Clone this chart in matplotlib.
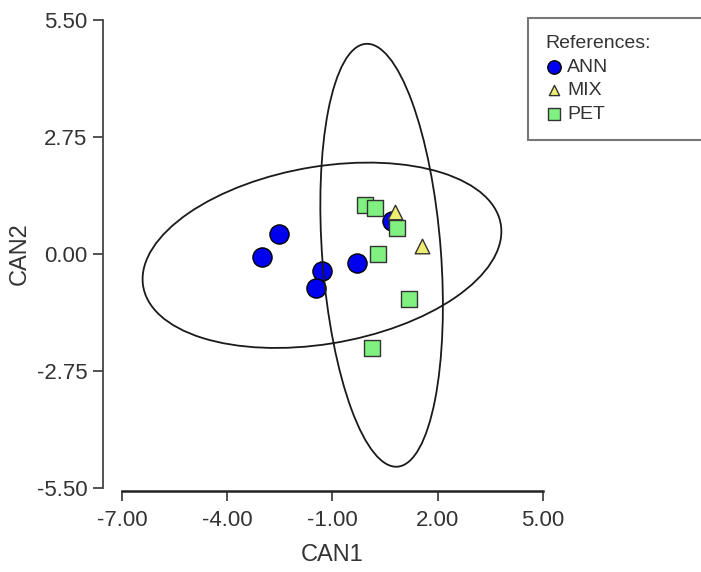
import numpy as np
import matplotlib.pyplot as plt
from matplotlib.patches import Ellipse

plt.rcParams['font.family'] = ['Liberation Sans', 'DejaVu Sans']

# -----Canonical scores-----
ann_x = [-3.02, -2.52, -1.30, -1.46, -0.30, 0.69]
ann_y = [-0.08, 0.46, -0.41, -0.80, -0.22, 0.78]
mix_x = [0.77, 1.55]
mix_y = [0.98, 0.18]
pet_x = [-0.06, 0.22, 0.84, 0.29, 1.17, 0.14]
pet_y = [1.16, 1.08, 0.61, -0.01, -1.06, -2.22]

# -----Confidence ellipses (centre, full width/height, angle in degrees)-----
ell_cx = [-1.30, 0.40]
ell_cy = [-0.03, -0.03]
ell_w = [10.3, 3.38]
ell_h = [4.18, 9.98]
ell_angle = [7.5, 5.4]

x_ticks = [-7.0, -4.0, -1.0, 2.0, 5.0]
y_ticks = [-5.5, -2.75, 0.0, 2.75, 5.5]

fig = plt.figure(figsize=(7.01, 5.72), dpi=100)
ax = fig.add_axes([122/701, 1-488/572, 421/701, 468/572])

ax.scatter(ann_x, ann_y, s=190, marker='o', color='#0000f0', edgecolor='black',
           linewidth=1.0, label='ANN', zorder=3)
ax.scatter(mix_x, mix_y, s=110, marker='^', color='#eeee70', edgecolor='#333333',
           linewidth=1.0, label='MIX', zorder=4)
ax.scatter(pet_x, pet_y, s=140, marker='s', color='#80f080', edgecolor='#333333',
           linewidth=1.0, label='PET', zorder=5)

for cx, cy, w, h, a in zip(ell_cx, ell_cy, ell_w, ell_h, ell_angle):
    e = Ellipse((cx, cy), w, h, angle=a, fill=False, edgecolor='#1a1a1a',
                linewidth=1.3, zorder=6)
    ax.add_patch(e)

ax.set_xlim(-7, 5)
ax.set_ylim(-5.5, 5.5)
ax.set_xticks(x_ticks)
ax.set_yticks(y_ticks)
ax.set_xticklabels(['%.2f' % v for v in x_ticks])
ax.set_yticklabels(['%.2f' % v for v in y_ticks])

for side in ['top', 'right']:
    ax.spines[side].set_visible(False)
ax.spines['left'].set_position(('outward', 14))
ax.spines['bottom'].set_position(('outward', 2))
ax.spines['left'].set_color('#444444')
ax.spines['bottom'].set_color('#222222')
ax.spines['left'].set_linewidth(1.3)
ax.spines['bottom'].set_linewidth(1.8)
ax.tick_params(axis='both', direction='out', length=7, width=1.3,
               color='#444444', labelsize=16, labelcolor='#333333', pad=4)
ax.tick_params(axis='x', pad=7)

ax.set_xlabel('CAN1', fontsize=17, color='#333333', labelpad=9)
ax.set_ylabel('CAN2', fontsize=17, color='#333333', labelpad=4)

leg = ax.legend(title='References:', loc='upper left',
                bbox_to_anchor=(528/701, 1-150/572, 250/701, 132/572),
                bbox_transform=fig.transFigure, mode='expand',
                fancybox=False, frameon=True, fontsize=14, title_fontsize=14,
                markerscale=0.7, handletextpad=0.2, handlelength=0.9,
                labelspacing=0.3, borderaxespad=0, alignment='left',
                borderpad=0.9)
leg.get_frame().set_edgecolor('#555555')
leg.get_frame().set_linewidth(1.5)
for t in leg.get_texts():
    t.set_color('#333333')
leg.get_title().set_color('#333333')

fig.savefig('out.png', dpi=100)
